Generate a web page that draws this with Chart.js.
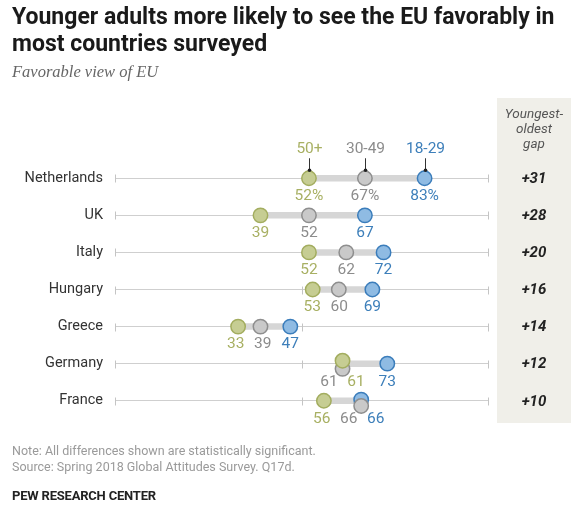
<!DOCTYPE html>
<html>
<head>
<meta charset="utf-8">
<script src="https://cdn.jsdelivr.net/npm/chart.js@4.4.1/dist/chart.umd.min.js"></script>
<style>
  html, body { margin: 0; padding: 0; background: #fff; }
  #wrap { position: relative; width: 571px; height: 506px; overflow: hidden; font-family: 'Roboto', 'Liberation Sans', sans-serif; }
  #chart { position: absolute; left: 0; top: 0; }
  .txt { position: absolute; left: 12px; white-space: nowrap; }
  #title { top: 3px; font-size: 23px; font-weight: bold; color: #1a1a1a; line-height: 27px; letter-spacing: 0px; }
  #sub { top: 62px; font-family: 'Liberation Serif', serif; font-style: italic; font-size: 16.5px; color: #666; }
  #note { top: 443px; font-size: 12.5px; color: #9a9a9a; line-height: 16px; }
  #pew { top: 488px; font-size: 13px; font-weight: bold; color: #222; letter-spacing: -0.2px; }
</style>
</head>
<body>
<div id="wrap">
  <canvas id="chart" width="571" height="506"></canvas>
  <div class="txt" id="title">Younger adults more likely to see the EU favorably in<br>most countries surveyed</div>
  <div class="txt" id="sub">Favorable view of EU</div>
  <div class="txt" id="note">Note: All differences shown are statistically significant.<br>Source: Spring 2018 Global Attitudes Survey. Q17d.</div>
  <div class="txt" id="pew">PEW RESEARCH CENTER</div>
</div>
<script>
const countries = ['Netherlands', 'UK', 'Italy', 'Hungary', 'Greece', 'Germany', 'France'];
const age50plus = [52, 39, 52, 53, 33, 61, 56];
const age30to49 = [67, 52, 62, 60, 39, 61, 66];
const age18to29 = [83, 67, 72, 69, 47, 73, 66];
const seriesLabels = ['50+', '30-49', '18-29'];

const GREEN = { fill: '#c6cd93', border: '#a3ad5f', text: '#a8b063' };
const GRAY = { fill: '#c9c9c9', border: '#8e8e8e', text: '#8c8c8c' };
const BLUE = { fill: '#8fbbe3', border: '#3b7dbb', text: '#3d7fba' };

const FONT = 'Roboto, "Liberation Sans", sans-serif';

// when gray ties another series, nudge gray down and the other up
function tieOffset(i, who) {
  const g = age30to49[i];
  const tied = g === age50plus[i] || g === age18to29[i];
  if (!tied) return 0;
  if (who === 'gray') return 0.14;
  if (who === 'green' && g === age50plus[i]) return -0.08;
  if (who === 'blue' && g === age18to29[i]) return -0.03;
  return 0;
}

function points(values, who) {
  return values.map((v, i) => ({ x: v, y: i + tieOffset(i, who) }));
}

const dotStyle = c => ({
  backgroundColor: c.fill,
  borderColor: c.border,
  borderWidth: 1.5,
  pointRadius: 7.2,
  pointHoverRadius: 7.2
});

const connectorPlugin = {
  id: 'connectors',
  beforeDraw(chart) {
    const { ctx } = chart;
    // gap column background
    ctx.save();
    ctx.fillStyle = '#f0efe9';
    ctx.fillRect(497, 98, 74, 325);
    ctx.restore();
  },
  beforeDatasetsDraw(chart) {
    const { ctx, scales: { x, y } } = chart;
    ctx.save();
    // end and middle ticks on each row
    ctx.strokeStyle = '#c4c4c4';
    ctx.lineWidth = 1;
    countries.forEach((c, i) => {
      const py = Math.round(y.getPixelForValue(i)) + 0.5;
      [0, 50, 100].forEach(t => {
        const px = Math.round(x.getPixelForValue(t)) + 0.5;
        ctx.beginPath();
        ctx.moveTo(px, py - 4);
        ctx.lineTo(px, py + 4);
        ctx.stroke();
      });
    });
    // connectors
    ctx.strokeStyle = '#d6d6d6';
    ctx.lineWidth = 6.5;
    ctx.lineCap = 'butt';
    countries.forEach((c, i) => {
      const lo = Math.min(age50plus[i], age30to49[i], age18to29[i]);
      const hi = Math.max(age50plus[i], age30to49[i], age18to29[i]);
      const py = y.getPixelForValue(i);
      ctx.beginPath();
      ctx.moveTo(x.getPixelForValue(lo), py);
      ctx.lineTo(x.getPixelForValue(hi), py);
      ctx.stroke();
    });
    ctx.restore();
  },
  afterDatasetsDraw(chart) {
    const { ctx, scales: { x, y } } = chart;
    ctx.save();
    ctx.font = '15.5px ' + FONT;
    ctx.textAlign = 'center';
    ctx.textBaseline = 'middle';

    // value labels under the dots, spread when they collide
    countries.forEach((c, i) => {
      const suffix = i === 0 ? '%' : '';
      const items = [
        { v: age30to49[i], col: GRAY.text, rank: 0 },
        { v: age50plus[i], col: GREEN.text, rank: 1 },
        { v: age18to29[i], col: BLUE.text, rank: 2 }
      ].map(o => ({ ...o, px: x.getPixelForValue(o.v) }));
      items.sort((a, b) => a.px - b.px || a.rank - b.rank);
      const minGap = i === 0 ? 36 : 27;
      for (let k = 0; k < 20; k++) {
        for (let j = 1; j < items.length; j++) {
          const d = items[j].px - items[j - 1].px;
          if (d < minGap) {
            const push = (minGap - d) / 2;
            items[j].px += push;
            items[j - 1].px -= push;
          }
        }
      }
      const tied = age30to49[i] === age50plus[i] || age30to49[i] === age18to29[i];
      const py = y.getPixelForValue(i) + (tied ? 18 : 17.5);
      items.forEach(o => {
        ctx.fillStyle = o.col;
        ctx.fillText(o.v + suffix, o.px, py);
      });
    });

    // series key above the first row
    const keyCols = [GREEN.text, GRAY.text, BLUE.text];
    [age50plus, age30to49, age18to29].forEach((arr, s) => {
      const px = Math.round(x.getPixelForValue(arr[0])) + 0.5;
      const py = y.getPixelForValue(0);
      ctx.fillStyle = keyCols[s];
      ctx.fillText(seriesLabels[s], px, py - 29);
      ctx.strokeStyle = '#333';
      ctx.lineWidth = 1;
      ctx.beginPath();
      ctx.moveTo(px, py - 20);
      ctx.lineTo(px, py - 8);
      ctx.stroke();
      ctx.fillStyle = '#222';
      ctx.beginPath();
      ctx.arc(px, py - 8, 1.8, 0, Math.PI * 2);
      ctx.fill();
    });

    // gap column
    const cx = 534;
    ctx.fillStyle = '#555';
    ctx.font = 'italic 13.5px ' + FONT;
    ['Youngest-', 'oldest', 'gap'].forEach((t, k) => ctx.fillText(t, cx, 115 + k * 15));
    ctx.fillStyle = '#222';
    ctx.font = 'italic bold 15px ' + FONT;
    countries.forEach((c, i) => {
      const gap = age18to29[i] - age50plus[i];
      ctx.fillText('+' + gap, cx, y.getPixelForValue(i) + 1);
    });
    ctx.restore();
  }
};

new Chart(document.getElementById('chart'), {
  type: 'scatter',
  data: {
    datasets: [
      { label: seriesLabels[0], data: points(age50plus, 'green'), ...dotStyle(GREEN) },
      { label: seriesLabels[1], data: points(age30to49, 'gray'), ...dotStyle(GRAY) },
      { label: seriesLabels[2], data: points(age18to29, 'blue'), ...dotStyle(BLUE) }
    ]
  },
  options: {
    responsive: false,
    devicePixelRatio: 1,
    animation: false,
    layout: { padding: { left: 0, right: 83, top: 156, bottom: 83 } },
    plugins: {
      legend: { display: false },
      tooltip: { enabled: false }
    },
    scales: {
      x: { type: 'linear', min: 0, max: 100, display: false },
      y: {
        type: 'linear',
        reverse: true,
        min: -0.6,
        max: 6.6,
        afterBuildTicks: s => { s.ticks = countries.map((c, i) => ({ value: i })); },
        afterFit: s => { s.width = 115; },
        border: { display: false },
        grid: { color: '#cfcfcf', lineWidth: 1, drawTicks: false },
        ticks: {
          padding: 12,
          color: '#333',
          font: { family: FONT, size: 14.5 },
          callback: v => countries[v]
        }
      }
    }
  },
  plugins: [connectorPlugin]
});
</script>
</body>
</html>
